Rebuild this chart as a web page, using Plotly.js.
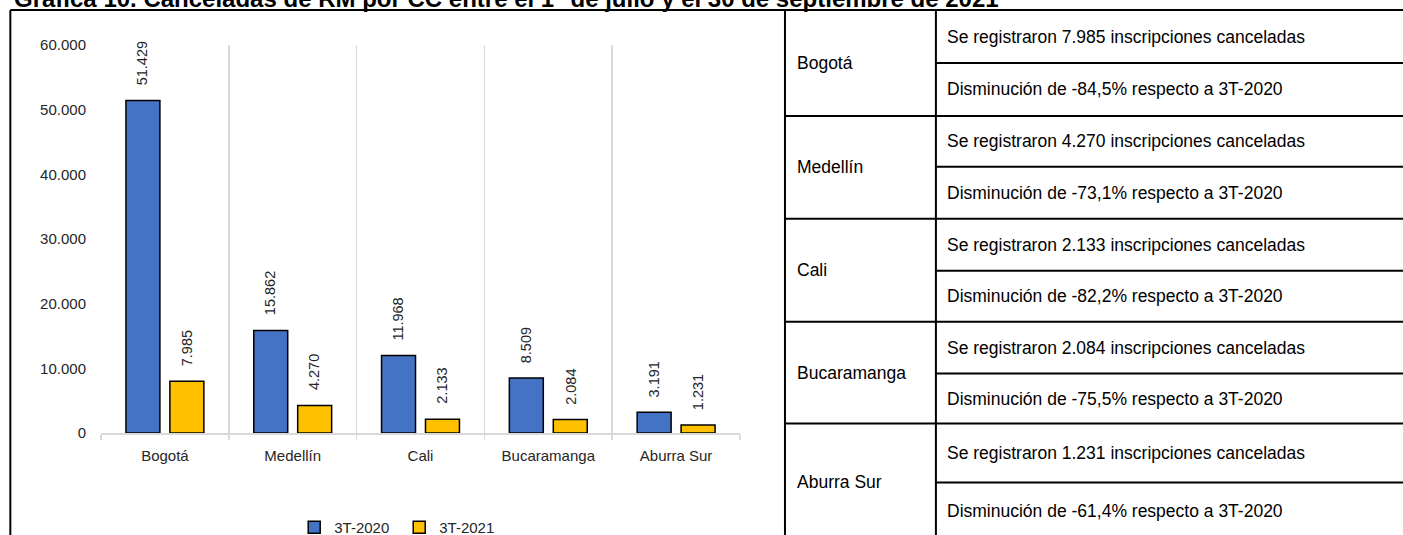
<!DOCTYPE html>
<html>
<head>
<meta charset="utf-8">
<script src="https://cdn.plot.ly/plotly-3.0.1.min.js"></script>
<style>html,body{margin:0;padding:0;background:#fff;overflow:hidden;}#chart{width:1403px;height:535px;}</style>
</head>
<body>
<div id="chart"></div>
<script>
// ---------- data ----------
const categories = ['Bogotá', 'Medellín', 'Cali', 'Bucaramanga', 'Aburra Sur'];
const values2020 = [51429, 15862, 11968, 8509, 3191];
const values2021 = [7985, 4270, 2133, 2084, 1231];
const seriesNames = ['3T-2020', '3T-2021'];
const yTickValues = [0, 10000, 20000, 30000, 40000, 50000, 60000];
const changeLabels = ['-84,5%', '-73,1%', '-82,2%', '-75,5%', '-61,4%'];
const titleText = 'Gráfica 10. Canceladas de RM por CC entre el 1° de julio y el 30 de septiembre de 2021';

// ---------- layout geometry ----------
const W = 1403, H = 535;
const PL = 100.7, PR = 740, PT = 45, PB = 433.5;
const px2x = p => (p - PL) / (PR - PL);
const py2y = p => (PB - p) / (PB - PT);
const FONT = 'Arial, "Liberation Sans", sans-serif';
const fmt = v => String(v).replace(/\B(?=(\d{3})+(?!\d))/g, '.');

const traces = [
  {type: 'bar', name: seriesNames[0], x: categories, y: values2020,
   marker: {color: '#4472C4', line: {color: '#000000', width: 1.5}}, hoverinfo: 'none'},
  {type: 'bar', name: seriesNames[1], x: categories, y: values2021,
   marker: {color: '#FFC000', line: {color: '#000000', width: 1.5}}, hoverinfo: 'none'}
];

const annotations = [];
[values2020, values2021].forEach((vals, si) => {
  vals.forEach((v, i) => {
    annotations.push({
      x: categories[i], y: v, xref: 'x', yref: 'y',
      text: fmt(v), textangle: -90, showarrow: false,
      xanchor: 'center', yanchor: 'bottom',
      xshift: si === 0 ? -22 : 22, yshift: 13,
      font: {family: FONT, size: 14.5, color: '#262626'}
    });
  });
});

// title (cut at the top of the picture)
annotations.push({
  text: '<b>' + titleText + '</b>', xref: 'paper', yref: 'paper',
  x: px2x(12), y: py2y(14), xanchor: 'left', yanchor: 'bottom', showarrow: false,
  font: {family: FONT, size: 24, color: '#000000'}
});

// table
const secTops = [10, 116, 219, 322, 424, 541];
const subLines = [63, 167, 271, 374, 483];
const colA = 785, colB = 936;
const shapes = [];
const line = (x0, y0, x1, y1) => shapes.push({type: 'line', xref: 'paper', yref: 'paper',
  x0: px2x(x0), y0: py2y(y0), x1: px2x(x1), y1: py2y(y1), line: {color: '#000', width: 2}});
line(10, 10, W + 5, 10);          // top border
line(10, 10, 10, H + 5);          // left border
line(colA, 10, colA, H + 5);
line(colB, 10, colB, H + 5);
secTops.slice(1, 5).forEach(y => line(colA, y, W + 5, y));
subLines.forEach(y => line(colB, y, W + 5, y));

categories.forEach((c, i) => {
  const top = secTops[i], bot = secTops[i + 1], mid = subLines[i];
  annotations.push({text: c, xref: 'paper', yref: 'paper', x: px2x(795), y: py2y((top + bot) / 2),
    xanchor: 'left', yanchor: 'middle', showarrow: false, font: {family: FONT, size: 17.5, color: '#000'}});
  annotations.push({text: 'Se registraron ' + fmt(values2021[i]) + ' inscripciones canceladas',
    xref: 'paper', yref: 'paper', x: px2x(945), y: py2y((top + mid) / 2),
    xanchor: 'left', yanchor: 'middle', showarrow: false, font: {family: FONT, size: 17.5, color: '#000'}});
  annotations.push({text: 'Disminución de ' + changeLabels[i] + ' respecto a 3T-2020',
    xref: 'paper', yref: 'paper', x: px2x(945), y: py2y((mid + bot) / 2),
    xanchor: 'left', yanchor: 'middle', showarrow: false, font: {family: FONT, size: 17.5, color: '#000'}});
});

const layout = {
  width: W, height: H,
  margin: {l: PL, r: W - PR, t: PT, b: H - PB, pad: 0, autoexpand: false},
  paper_bgcolor: '#ffffff', plot_bgcolor: '#ffffff',
  separators: ',.',
  font: {family: FONT, size: 15, color: '#262626'},
  barmode: 'group', bargap: 0.3125, bargroupgap: 0.227,
  showlegend: true,
  legend: {orientation: 'h', x: px2x(294), xanchor: 'left', y: py2y(528), yanchor: 'middle',
    font: {family: FONT, size: 15, color: '#262626'}, entrywidth: 60, entrywidthmode: 'pixels',
    itemwidth: 30, bgcolor: 'rgba(0,0,0,0)', traceorder: 'normal'},
  xaxis: {type: 'category', tickson: 'boundaries', ticks: 'outside', ticklen: 5, tickwidth: 1.5,
    tickcolor: '#D9D9D9', showgrid: true, gridcolor: '#D9D9D9', gridwidth: 1.5,
    showline: true, linecolor: '#D9D9D9', linewidth: 1.5, ticklabelstandoff: 8,
    range: [-0.5, 4.5], fixedrange: true, zeroline: false,
    tickfont: {family: FONT, size: 15, color: '#262626'}},
  yaxis: {range: [0, 60000], tickvals: yTickValues, tickformat: ',d', showgrid: false, zeroline: false,
    showline: false, ticks: '', ticklabelstandoff: 14, fixedrange: true,
    tickfont: {family: FONT, size: 15, color: '#262626'}},
  annotations: annotations,
  shapes: shapes
};

Plotly.newPlot('chart', traces, layout, {displayModeBar: false, staticPlot: true});
</script>
</body>
</html>
